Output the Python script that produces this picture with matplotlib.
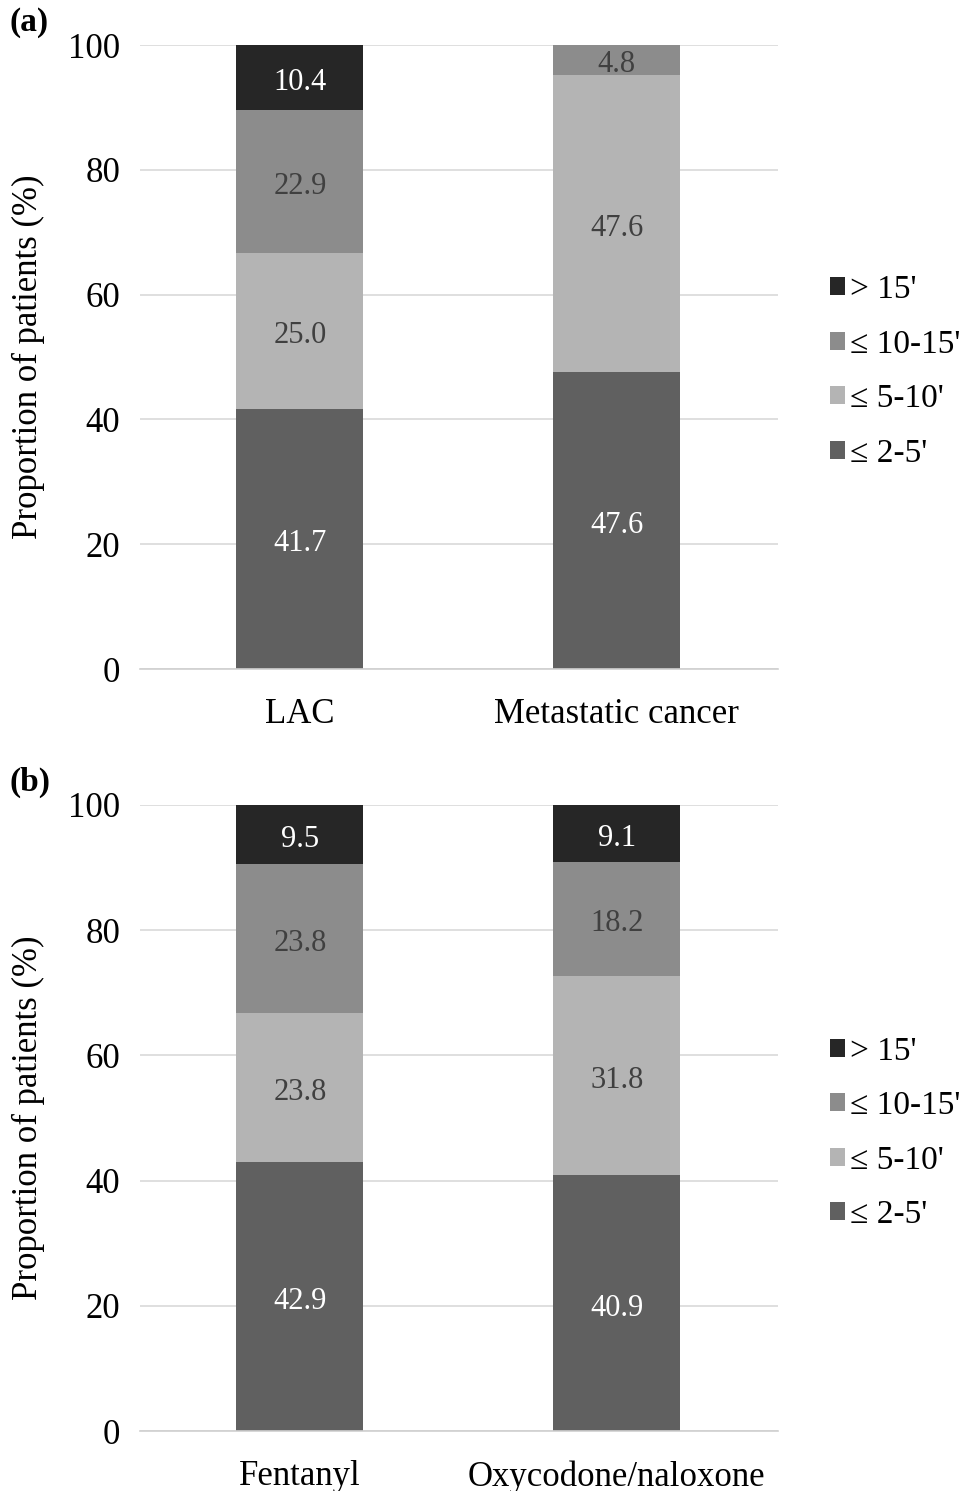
import matplotlib.pyplot as plt
from matplotlib.patches import Patch

plt.rcParams['font.family'] = ['Liberation Serif', 'DejaVu Serif']

# data
cats_a = ['LAC', 'Metastatic cancer']
cats_b = ['Fentanyl', 'Oxycodone/naloxone']
series = ["\u2264 2-5'", "\u2264 5-10'", "\u2264 10-15'", "> 15'"]
vals_a = [[41.7, 47.6], [25.0, 47.6], [22.9, 4.8], [10.4, 0.0]]
vals_b = [[42.9, 40.9], [23.8, 31.8], [23.8, 18.2], [9.5, 9.1]]

colors = ['#606060', '#b4b4b4', '#8c8c8c', '#262626']
txt_colors = ['white', '#404040', '#404040', 'white']

fig = plt.figure(figsize=(9.64, 14.91), dpi=100)


def panel(rect, cats, vals, tag, leg_y):
    ax = fig.add_axes(rect)
    x = range(len(cats))
    bottom = [0.0] * len(cats)
    for i, v in enumerate(vals):
        ax.bar(x, v, bottom=bottom, width=0.4, color=colors[i], zorder=2)
        for j, val in enumerate(v):
            if val > 0:
                # labels sit a touch below segment centre, as in the original
                ax.text(j, bottom[j] + val / 2 - 0.8, f'{val:.1f}', ha='center', va='center',
                        color=txt_colors[i], fontsize=22, zorder=3)
        bottom = [b + val for b, val in zip(bottom, v)]
    ax.set_xlim(-0.505, 1.508)
    ax.set_ylim(0, 100)
    ax.set_yticks(range(0, 101, 20))
    ax.set_xticks(list(x))
    ax.set_xticklabels(cats)
    ax.tick_params(axis='both', length=0, labelsize=25)
    ax.tick_params(axis='y', pad=14)
    ax.tick_params(axis='x', pad=21)
    ax.grid(axis='y', color='#d9d9d9', linewidth=1.2, zorder=0)
    for s in ['top', 'right', 'left']:
        ax.spines[s].set_visible(False)
    ax.spines['bottom'].set_color('#d0d0d0')
    ax.spines['bottom'].set_linewidth(1.2)
    ax.set_ylabel('Proportion of patients (%)', fontsize=25)
    ax.yaxis.set_label_coords(-0.148, 0.5)
    handles = [Patch(facecolor=colors[i], label=series[i]) for i in range(3, -1, -1)]
    fig.legend(handles=handles, loc='center left', bbox_to_anchor=(0.861, leg_y),
               frameon=False, fontsize=24, handlelength=0.45, handleheight=0.45,
               handletextpad=0.15, labelspacing=0.72, borderaxespad=0, borderpad=0)
    fig.text(0.01, rect[1] + rect[3] + 0.015, tag, fontsize=24, fontweight='bold',
             va='center', ha='left')
    return ax


panel([0.145, 0.5513, 0.662, 0.4185], cats_a, vals_a, '(a)', 0.7508)
panel([0.145, 0.0402, 0.662, 0.4199], cats_b, vals_b, '(b)', 0.2401)

fig.savefig('out.png', dpi=100)
